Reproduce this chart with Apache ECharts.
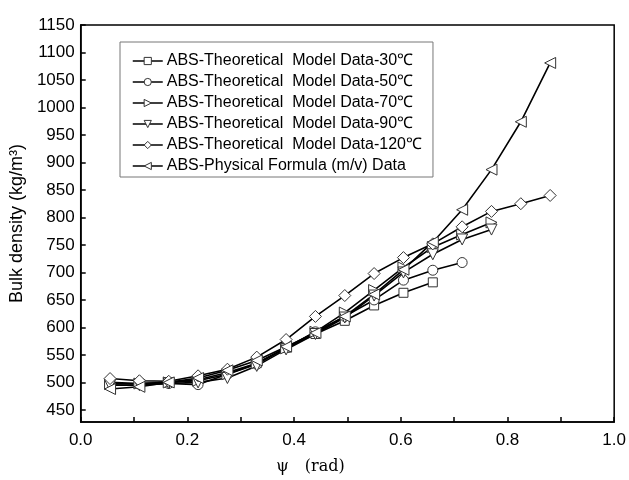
<!DOCTYPE html>
<html>
<head>
<meta charset="utf-8">
<script src="https://cdn.jsdelivr.net/npm/echarts@6/dist/echarts.min.js"></script>
<style>html,body{margin:0;padding:0;background:#fff;}#c{width:629px;height:480px;}</style>
</head>
<body>
<div id="c"></div>
<script>
// ---- data ----
const psi = [0.055, 0.11, 0.165, 0.22, 0.275, 0.33, 0.385, 0.44, 0.495, 0.55, 0.605, 0.66, 0.715, 0.77, 0.825, 0.88];
const seriesNames = [
  'ABS-Theoretical  Model Data-30\u2103',
  'ABS-Theoretical  Model Data-50\u2103',
  'ABS-Theoretical  Model Data-70\u2103',
  'ABS-Theoretical  Model Data-90\u2103',
  'ABS-Theoretical  Model Data-120\u2103',
  'ABS-Physical Formula (m/v) Data'
];
const d30  = [500, 498, 500, 505, 518, 535, 563, 588, 612, 640, 663, 682];
const d50  = [498, 497, 498, 496, 515, 533, 563, 592, 620, 650, 686, 704, 718];
const d70  = [497, 498, 500, 503, 515, 535, 562, 592, 627, 668, 709, 746, 769, 791];
const d90  = [495, 495, 498, 500, 508, 530, 560, 588, 618, 658, 700, 733, 760, 778];
const d120 = [507, 503, 502, 512, 524, 546, 578, 620, 658, 698, 727, 752, 783, 811, 825, 840];
const dPhy = [488, 492, 500, 508, 522, 540, 565, 590, 620, 660, 705, 755, 814, 887, 974, 1081];
const yTicks = [450, 500, 550, 600, 650, 700, 750, 800, 850, 900, 950, 1000, 1050, 1100, 1150];
const xTicks = [0, 0.1, 0.2, 0.3, 0.4, 0.5, 0.6, 0.7, 0.8, 0.9, 1.0];
const xLabels = [0, 0.2, 0.4, 0.6, 0.8, 1.0];
const yMin = 428, yMax = 1150;

const allData = [d30, d50, d70, d90, d120, dPhy];
const symbols = ['rect', 'circle', 'triangle', 'triangle', 'diamond', 'triangle'];
const rotations = [0, 0, -90, 180, 0, 90];
const sizes = [9, 10, 11, 11, 12, 11];

const chart = echarts.init(document.getElementById('c'), null, {renderer: 'canvas'});
const font = 'Liberation Sans, Arial, sans-serif';
chart.setOption({
  animation: false,
  backgroundColor: '#fff',
  grid: {left: 78, right: 14, top: 25, bottom: 57, show: true, borderColor: '#000', borderWidth: 1.5, backgroundColor: 'transparent'},
  legend: {
    orient: 'vertical', left: 120, top: 42,
    padding: [11, 11, 3, 12],
    borderColor: '#777', borderWidth: 1,
    itemWidth: 30, itemHeight: 9, itemGap: 5.0,
    itemStyle: {color: '#fff', borderColor: '#333', borderWidth: 1},
    lineStyle: {color: '#000', width: 1.5},
    textStyle: {fontFamily: font, fontSize: 16, color: '#000', padding: [0, 0, 0, -1]},
    data: seriesNames
  },
  xAxis: {
    type: 'value', min: 0, max: 1,
    name: '\u03c8\u3000(rad)', nameLocation: 'middle', nameGap: 37,
    nameTextStyle: {fontFamily: 'DejaVu Serif, Liberation Serif, serif', fontSize: 16, color: '#000', padding: [0, 74, 0, 0]},
    axisLine: {lineStyle: {color: '#000', width: 1.5}},
    axisTick: {inside: true, length: 5, lineStyle: {color: '#000', width: 1.5}, customValues: xTicks},
    axisLabel: {customValues: xLabels, fontFamily: font, fontSize: 17, color: '#000', margin: 10,
      formatter: v => v.toFixed(1)},
    splitLine: {show: false}
  },
  yAxis: {
    type: 'value', min: yMin, max: yMax,
    name: 'Bulk density (kg/m\u00b3)', nameLocation: 'middle', nameGap: 50, nameRotate: 90,
    nameTextStyle: {fontFamily: font, fontSize: 18, color: '#000'},
    axisLine: {lineStyle: {color: '#000', width: 1.5}},
    axisTick: {inside: true, length: 5, lineStyle: {color: '#000', width: 1.5}, customValues: yTicks},
    axisLabel: {customValues: yTicks, fontFamily: font, fontSize: 17, color: '#000', margin: 6,
      formatter: v => String(v)},
    splitLine: {show: false}
  },
  series: seriesNames.map((n, i) => ({
    name: n, type: 'line',
    data: allData[i].map((v, k) => [psi[k], v]),
    symbol: symbols[i], symbolRotate: rotations[i], symbolSize: sizes[i],
    showSymbol: true,
    lineStyle: {color: '#000', width: 1.6},
    itemStyle: {color: '#fff', borderColor: '#333', borderWidth: 1},
    emphasis: {disabled: true}
  }))
});
</script>
</body>
</html>
